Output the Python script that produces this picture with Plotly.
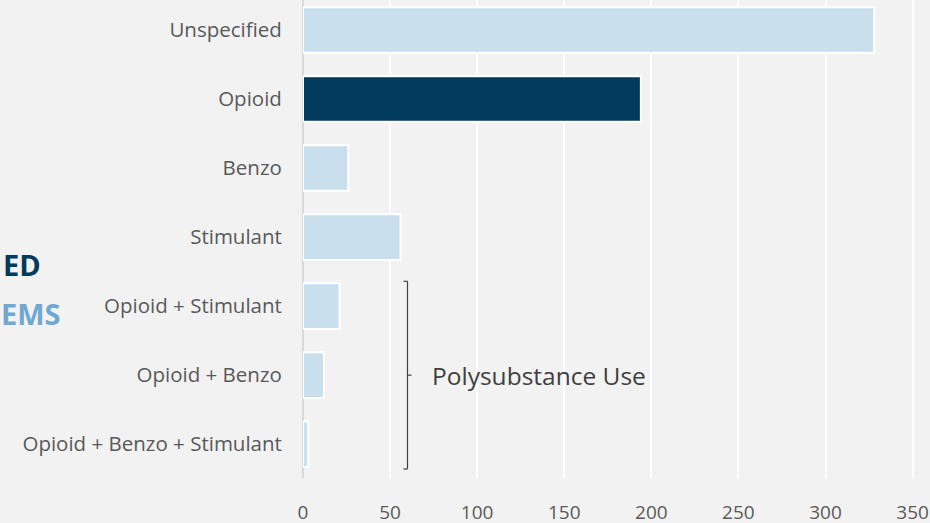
import plotly.graph_objects as go

categories = ["Unspecified", "Opioid", "Benzo", "Stimulant",
              "Opioid + Stimulant", "Opioid + Benzo", "Opioid + Benzo + Stimulant"]
values = [328, 194, 26, 56, 21, 12, 3]
bar_colors = ["#c9dfed", "#003a5d", "#c9dfed", "#c9dfed", "#c9dfed", "#c9dfed", "#c9dfed"]
x_ticks = [0, 50, 100, 150, 200, 250, 300, 350]
bracket_label = "Polysubstance Use"

fig = go.Figure(go.Bar(
    x=values, y=categories, orientation="h",
    marker=dict(color=bar_colors, line=dict(color="white", width=2)),
    width=0.66,
))

# bracket for polysubstance group (data coordinates)
bx = 60
y_top, y_bot, y_mid = 3.64, 6.36, 5
line_style = dict(color="#404040", width=1.2)
fig.add_shape(type="line", xref="x", yref="y", x0=bx, x1=bx, y0=y_top, y1=y_bot, line=line_style)
fig.add_shape(type="line", xref="x", yref="y", x0=bx - 2.3, x1=bx, y0=y_top, y1=y_top, line=line_style)
fig.add_shape(type="line", xref="x", yref="y", x0=bx - 2.3, x1=bx, y0=y_bot, y1=y_bot, line=line_style)
fig.add_shape(type="line", xref="x", yref="y", x0=bx, x1=bx + 2.3, y0=y_mid, y1=y_mid, line=line_style)
fig.add_annotation(x=bx + 13, y=y_mid, xref="x", yref="y", text=bracket_label,
                   showarrow=False, xanchor="left", yanchor="middle",
                   font=dict(family="Open Sans", size=24.5, color="#404040"))

# partially visible legend text at left edge
fig.add_annotation(x=(43 - 303) / 627, y=1 - 264 / 478, xref="paper", yref="paper",
                   text="<b>ED</b>", showarrow=False, xanchor="right", yanchor="middle",
                   font=dict(family="Open Sans", size=29, color="#003a5d"))
fig.add_annotation(x=(63 - 303) / 627, y=1 - 313 / 478, xref="paper", yref="paper",
                   text="<b>EMS</b>", showarrow=False, xanchor="right", yanchor="middle",
                   font=dict(family="Open Sans", size=29, color="#6fa8d0"))

fig.update_layout(
    width=930, height=523,
    margin=dict(l=303, r=0, t=0, b=45),
    paper_bgcolor="#f2f2f2", plot_bgcolor="#f2f2f2",
    showlegend=False,
    xaxis=dict(range=[0, 360], tickvals=x_ticks, showgrid=True, gridcolor="white", gridwidth=2,
               zeroline=True, zerolinecolor="#d9d9d9", zerolinewidth=2, automargin=False,
               ticks="outside", ticklen=17, tickcolor="rgba(0,0,0,0)",
               tickfont=dict(family="Open Sans", size=19, color="#595959")),
    yaxis=dict(categoryorder="array", categoryarray=categories, range=[6.49, -0.435],
               showgrid=False, automargin=False, ticks="outside", ticklen=16,
               tickcolor="rgba(0,0,0,0)",
               tickfont=dict(family="Open Sans", size=20.5, color="#595959")),
)

fig.write_html("out.html", config={"displayModeBar": False},
               post_script="document.body.style.margin='0';document.body.style.background='#f2f2f2';")
